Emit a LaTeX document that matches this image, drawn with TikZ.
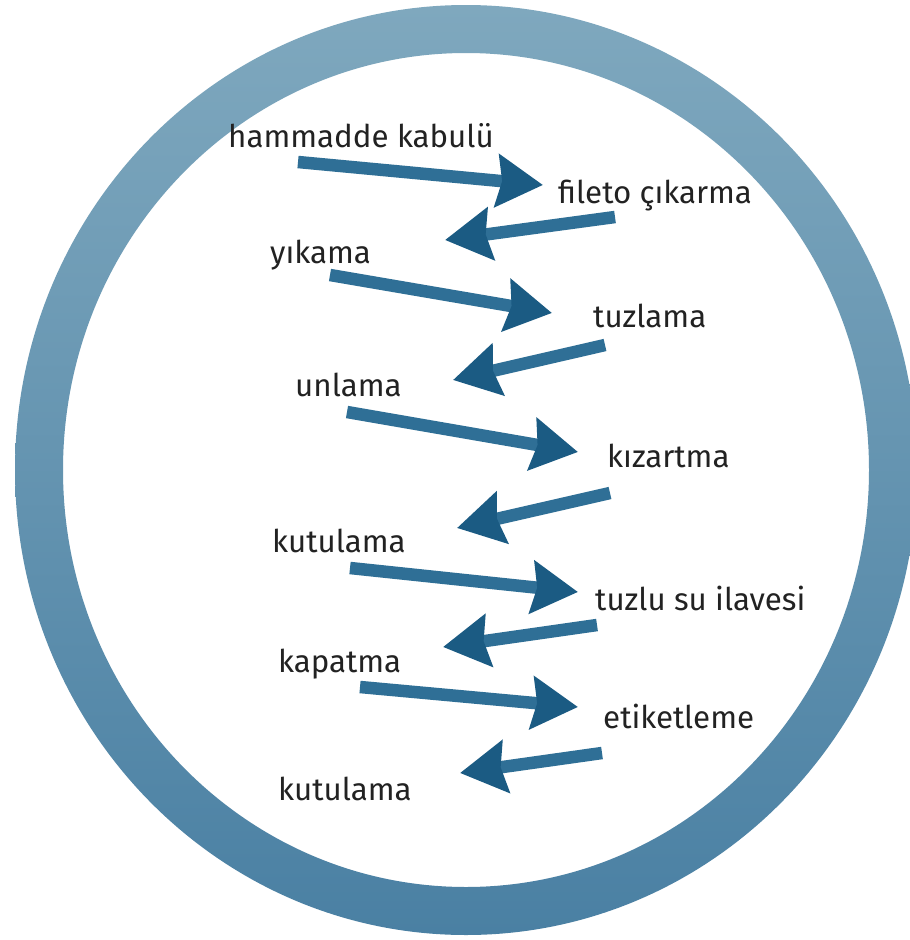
\documentclass[tikz,border=0pt]{standalone}
\usepackage{fontspec}
\setmainfont{Fira Sans}
\usetikzlibrary{arrows.meta}
\definecolor{ringtop}{HTML}{7FA8BE}
\definecolor{ringbot}{HTML}{4A80A3}
\definecolor{shaftc}{HTML}{2F6F96}
\definecolor{headc}{HTML}{1B5B83}
\definecolor{txtc}{HTML}{222222}
\tikzset{
  lbl/.style={inner sep=0pt, anchor=base west, text=txtc, font=\fontsize{31.3}{36}\selectfont},
  flow/.style={line width=12.5pt, draw=shaftc, -{Stealth[length=46pt, width=52pt, inset=5pt, color=headc]}}
}
\begin{document}
\begin{tikzpicture}[x=1pt,y=-1pt]
\useasboundingbox (0,0) rectangle (910,940);
\clip (0,0) rectangle (910,940);
\fill[white] (0,0) rectangle (910,940);
\coordinate (c) at (466,470);
\shade[even odd rule, top color=ringtop, bottom color=ringbot]
  (c) ellipse [x radius=451, y radius=465]
  (c) ellipse [x radius=403, y radius=417];
% labels
\node[lbl] (n1) at (228,147) {hammadde kabulü};
\node[lbl] (n2) at (558,203) {fileto çıkarma};
\node[lbl] (n3) at (270,263) {yıkama};
\node[lbl] (n4) at (593,327) {tuzlama};
\node[lbl] (n5) at (295,396) {unlama};
\node[lbl] (n6) at (607,467) {kızartma};
\node[lbl] (n7) at (272,552) {kutulama};
\node[lbl] (n8) at (595,610) {tuzlu su ilavesi};
\node[lbl] (n9) at (278,672) {kapatma};
\node[lbl] (n10) at (603,728) {etiketleme};
\node[lbl] (n11) at (278,800) {kutulama};
% arrow endpoints
\coordinate (a1) at (298,162); \coordinate (b1) at (543,185);
\coordinate (a2) at (615,217); \coordinate (b2) at (445,240);
\coordinate (a3) at (330,275); \coordinate (b3) at (552,313);
\coordinate (a4) at (605,345); \coordinate (b4) at (453,380);
\coordinate (a5) at (347,412); \coordinate (b5) at (578,452);
\coordinate (a6) at (610,493); \coordinate (b6) at (457,528);
\coordinate (a7) at (350,568); \coordinate (b7) at (578,592);
\coordinate (a8) at (597,625); \coordinate (b8) at (443,647);
\coordinate (a9) at (360,687); \coordinate (b9) at (578,707);
\coordinate (a10) at (602,753); \coordinate (b10) at (460,773);
\foreach \i in {1,...,10} { \draw[flow] (a\i) -- (b\i); }
\end{tikzpicture}
\end{document}
